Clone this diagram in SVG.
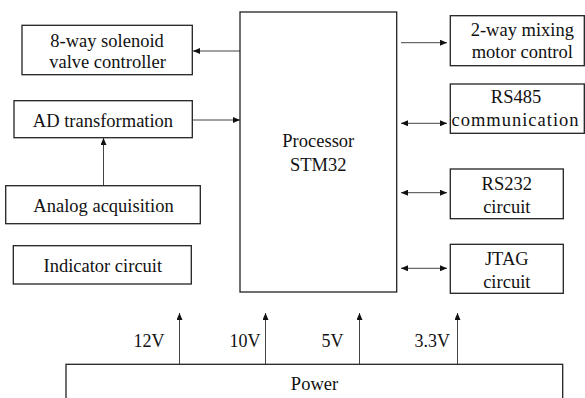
<svg xmlns="http://www.w3.org/2000/svg" width="585" height="398" viewBox="0 0 585 398">
<style>
.box{fill:#fff;stroke:#222;stroke-width:1.3}
.t{font-family:"Liberation Serif","Times New Roman",serif;font-size:18.5px;fill:#111;text-anchor:middle}
.v{font-family:"Liberation Serif","Times New Roman",serif;font-size:18px;fill:#111;text-anchor:end}
.c{fill:none;stroke:#444;stroke-width:1}
</style>
<defs>
<marker id="ah" markerUnits="userSpaceOnUse" markerWidth="8" markerHeight="6" refX="7" refY="3" orient="auto-start-reverse">
<path d="M0,0 L7,3 L0,6 z" fill="#111"/>
</marker>
</defs>
<rect width="585" height="398" fill="#fff"/>
<g id="connectors">
<line class="c" x1="240" y1="51" x2="193" y2="51" marker-end="url(#ah)"/>
<line class="c" x1="193" y1="120" x2="240" y2="120" marker-end="url(#ah)"/>
<line class="c" x1="103.5" y1="186" x2="103.5" y2="138" marker-end="url(#ah)"/>
<line class="c" x1="401" y1="42.7" x2="447" y2="42.7" marker-end="url(#ah)"/>
<line class="c" x1="401" y1="123.3" x2="447" y2="123.3" marker-start="url(#ah)" marker-end="url(#ah)"/>
<line class="c" x1="401" y1="192.7" x2="447" y2="192.7" marker-start="url(#ah)" marker-end="url(#ah)"/>
<line class="c" x1="401" y1="268.3" x2="447" y2="268.3" marker-start="url(#ah)" marker-end="url(#ah)"/>
<line class="c" x1="179.5" y1="364" x2="179.5" y2="313" marker-end="url(#ah)"/>
<line class="c" x1="265.5" y1="364" x2="265.5" y2="313" marker-end="url(#ah)"/>
<line class="c" x1="359.5" y1="364" x2="359.5" y2="313" marker-end="url(#ah)"/>
<line class="c" x1="457.5" y1="364" x2="457.5" y2="313" marker-end="url(#ah)"/>
</g>
<g id="valve">
<rect class="box" x="22" y="25.3" width="170.3" height="49.4"/>
<text class="t" x="107" y="46.7">8-way solenoid</text>
<text class="t" x="107.5" y="68.3">valve controller</text>
</g>
<g id="ad">
<rect class="box" x="14" y="100.7" width="178.3" height="37"/>
<text class="t" x="103" y="127.3">AD transformation</text>
</g>
<g id="analog">
<rect class="box" x="5.7" y="185.7" width="194.6" height="38"/>
<text class="t" x="103.5" y="211.7">Analog acquisition</text>
</g>
<g id="indicator">
<rect class="box" x="13.3" y="245.7" width="178" height="38.3"/>
<text class="t" x="102.8" y="272">Indicator circuit</text>
</g>
<g id="processor">
<rect class="box" x="240" y="12" width="156.7" height="280"/>
<text class="t" x="318.3" y="147.3">Processor</text>
<text class="t" x="318.3" y="170.7">STM32</text>
</g>
<g id="mixing">
<rect class="box" x="450.3" y="15.7" width="134" height="50"/>
<text class="t" x="522.3" y="36">2-way mixing</text>
<text class="t" x="522.3" y="58.3">motor control</text>
</g>
<g id="rs485">
<rect class="box" x="450.3" y="84" width="134" height="49.3"/>
<text class="t" x="516" y="103.3">RS485</text>
<text class="t" x="515" y="126" textLength="127" lengthAdjust="spacing">communication</text>
</g>
<g id="rs232">
<rect class="box" x="450.3" y="169" width="113" height="49.7"/>
<text class="t" x="506.8" y="190">RS232</text>
<text class="t" x="506.8" y="213.3">circuit</text>
</g>
<g id="jtag">
<rect class="box" x="450.3" y="244.3" width="113" height="49"/>
<text class="t" x="506.8" y="265">JTAG</text>
<text class="t" x="506.8" y="288.3">circuit</text>
</g>
<g id="power">
<rect class="box" x="66" y="364.3" width="496.7" height="50"/>
<text class="t" x="314.5" y="390">Power</text>
</g>
<g id="labels">
<text class="v" x="164.5" y="346.5">12V</text>
<text class="v" x="260.5" y="346.5">10V</text>
<text class="v" x="343.5" y="346.5">5V</text>
<text class="v" x="450" y="346.5">3.3V</text>
</g>
</svg>
